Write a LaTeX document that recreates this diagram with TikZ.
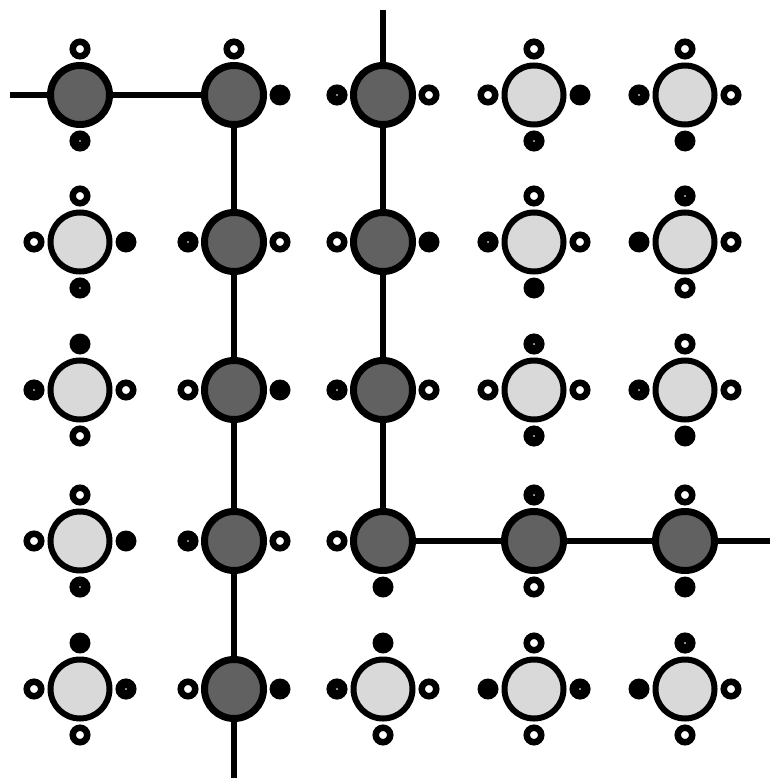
\documentclass[tikz,border=0pt]{standalone}
\begin{document}
\begin{tikzpicture}[x=1pt,y=-1pt,
  big/.style={circle,draw=black,inner sep=0pt},
  darkc/.style={big,fill=black!62,line width=7pt,minimum size=59pt},
  lightc/.style={big,fill=black!15,line width=6pt,minimum size=59pt},
  satO/.style={circle,draw=black,fill=white,line width=6.5pt,inner sep=0pt,minimum size=14.5pt},
  satF/.style={circle,fill=black,inner sep=0pt,minimum size=21pt},
  satD/.style={circle,draw=black,fill=white,line width=9.5pt,inner sep=0pt,minimum size=11.5pt},
  bond/.style={line width=5.5pt}]
\useasboundingbox (0,0) rectangle (781,781);
% big circles
\foreach \r/\y in {1/95,2/242,3/390,4/541,5/689}{
  \foreach \c/\x in {1/80,2/234,3/383,4/534,5/685}{
    \coordinate (p\r\c) at (\x,\y);
  }
}
\foreach \n in {11,12,13,22,23,32,33,42,43,44,45,52}
  \node[darkc] (c\n) at (p\n) {};
\foreach \n in {14,15,21,24,25,31,34,35,41,51,53,54,55}
  \node[lightc] (c\n) at (p\n) {};
% satellites
\foreach \n/\a in {c11/90,c12/90,c13/0,c14/90,c14/180,c15/90,c15/0,c21/90,c21/180,c22/0,c23/180,c24/90,c24/0,c25/0,c25/270,c31/0,c31/270,c32/180,c33/0,c34/0,c34/180,c35/90,c35/0,c41/90,c41/180,c42/0,c43/180,c44/270,c45/90,c51/270,c51/180,c52/180,c53/0,c53/270,c54/90,c54/270,c55/0,c55/270}
  \node[satO] (\n-\a) at ([shift={(\a:46pt)}]\n.center) {};
\foreach \n/\a in {c12/0,c14/0,c15/270,c21/0,c23/0,c24/270,c25/180,c31/90,c32/0,c35/270,c41/0,c43/270,c45/270,c51/90,c52/0,c53/90,c54/180,c55/180}
  \node[satF] (\n-\a) at ([shift={(\a:46pt)}]\n.center) {};
\foreach \n/\a in {c11/270,c13/180,c14/270,c15/180,c21/270,c22/180,c24/180,c25/90,c31/180,c33/180,c34/90,c34/270,c35/180,c41/270,c42/180,c44/90,c51/0,c53/180,c54/0,c55/90}
  \node[satD] (\n-\a) at ([shift={(\a:46pt)}]\n.center) {};
% bonds
\coordinate (endL) at (10,95);
\coordinate (endT) at (383,10);
\coordinate (endB) at (234,778);
\coordinate (endR) at (770,541);
\draw[bond] (endL) -- (c11);
\draw[bond] (c11) -- (c12);
\draw[bond] (c12) -- (c22);
\draw[bond] (c22) -- (c32);
\draw[bond] (c32) -- (c42);
\draw[bond] (c42) -- (c52);
\draw[bond] (c52) -- (endB);
\draw[bond] (endT) -- (c13);
\draw[bond] (c13) -- (c23);
\draw[bond] (c23) -- (c33);
\draw[bond] (c33) -- (c43);
\draw[bond] (c43) -- (c44);
\draw[bond] (c44) -- (c45);
\draw[bond] (c45) -- (endR);
\end{tikzpicture}
\end{document}
